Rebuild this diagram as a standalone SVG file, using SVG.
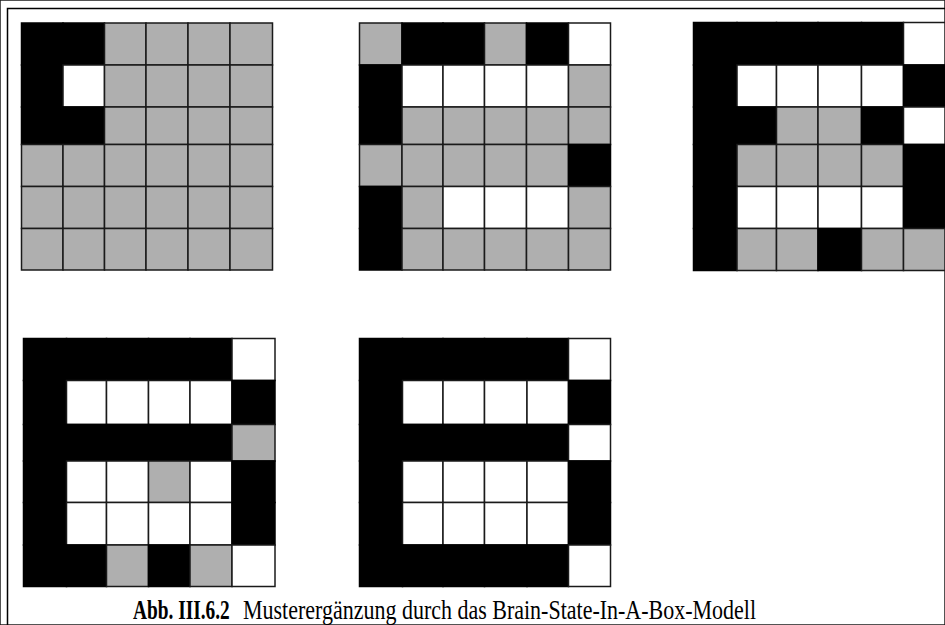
<svg xmlns="http://www.w3.org/2000/svg" width="945" height="625" viewBox="0 0 945 625">
<style>
rect{stroke:#1a1a1a;stroke-width:1.5}
.B{fill:#000;stroke:#000}.G{fill:#afafaf}.W{fill:#fff}
.frame{stroke:#000;stroke-width:1.5;fill:none}
.cap{font-family:"Liberation Serif","Times New Roman",serif;font-size:22px;fill:#000}
</style>
<rect width="945" height="625" fill="#fff" stroke="none"/>
<path class="frame" d="M7.5 625V8.5H945"/>
<g id="grid1">
<rect class="B" x="21.5" y="23" width="41.5" height="42"/><rect class="B" x="63" y="23" width="41.5" height="42"/><rect class="G" x="104.5" y="23" width="41.5" height="42"/><rect class="G" x="146" y="23" width="42" height="42"/><rect class="G" x="188" y="23" width="42" height="42"/><rect class="G" x="230" y="23" width="42.5" height="42"/>
<rect class="B" x="21.5" y="65" width="41.5" height="42"/><rect class="W" x="63" y="65" width="41.5" height="42"/><rect class="G" x="104.5" y="65" width="41.5" height="42"/><rect class="G" x="146" y="65" width="42" height="42"/><rect class="G" x="188" y="65" width="42" height="42"/><rect class="G" x="230" y="65" width="42.5" height="42"/>
<rect class="B" x="21.5" y="107" width="41.5" height="37.5"/><rect class="B" x="63" y="107" width="41.5" height="37.5"/><rect class="G" x="104.5" y="107" width="41.5" height="37.5"/><rect class="G" x="146" y="107" width="42" height="37.5"/><rect class="G" x="188" y="107" width="42" height="37.5"/><rect class="G" x="230" y="107" width="42.5" height="37.5"/>
<rect class="G" x="21.5" y="144.5" width="41.5" height="42"/><rect class="G" x="63" y="144.5" width="41.5" height="42"/><rect class="G" x="104.5" y="144.5" width="41.5" height="42"/><rect class="G" x="146" y="144.5" width="42" height="42"/><rect class="G" x="188" y="144.5" width="42" height="42"/><rect class="G" x="230" y="144.5" width="42.5" height="42"/>
<rect class="G" x="21.5" y="186.5" width="41.5" height="42"/><rect class="G" x="63" y="186.5" width="41.5" height="42"/><rect class="G" x="104.5" y="186.5" width="41.5" height="42"/><rect class="G" x="146" y="186.5" width="42" height="42"/><rect class="G" x="188" y="186.5" width="42" height="42"/><rect class="G" x="230" y="186.5" width="42.5" height="42"/>
<rect class="G" x="21.5" y="228.5" width="41.5" height="41.5"/><rect class="G" x="63" y="228.5" width="41.5" height="41.5"/><rect class="G" x="104.5" y="228.5" width="41.5" height="41.5"/><rect class="G" x="146" y="228.5" width="42" height="41.5"/><rect class="G" x="188" y="228.5" width="42" height="41.5"/><rect class="G" x="230" y="228.5" width="42.5" height="41.5"/>
</g>
<g id="grid2">
<rect class="G" x="359.5" y="23" width="42.5" height="42"/><rect class="B" x="402" y="23" width="41" height="42"/><rect class="B" x="443" y="23" width="41.5" height="42"/><rect class="G" x="484.5" y="23" width="42" height="42"/><rect class="B" x="526.5" y="23" width="42" height="42"/><rect class="W" x="568.5" y="23" width="42" height="42"/>
<rect class="B" x="359.5" y="65" width="42.5" height="42"/><rect class="W" x="402" y="65" width="41" height="42"/><rect class="W" x="443" y="65" width="41.5" height="42"/><rect class="W" x="484.5" y="65" width="42" height="42"/><rect class="W" x="526.5" y="65" width="42" height="42"/><rect class="G" x="568.5" y="65" width="42" height="42"/>
<rect class="B" x="359.5" y="107" width="42.5" height="37.5"/><rect class="G" x="402" y="107" width="41" height="37.5"/><rect class="G" x="443" y="107" width="41.5" height="37.5"/><rect class="G" x="484.5" y="107" width="42" height="37.5"/><rect class="G" x="526.5" y="107" width="42" height="37.5"/><rect class="G" x="568.5" y="107" width="42" height="37.5"/>
<rect class="G" x="359.5" y="144.5" width="42.5" height="42"/><rect class="G" x="402" y="144.5" width="41" height="42"/><rect class="G" x="443" y="144.5" width="41.5" height="42"/><rect class="G" x="484.5" y="144.5" width="42" height="42"/><rect class="G" x="526.5" y="144.5" width="42" height="42"/><rect class="B" x="568.5" y="144.5" width="42" height="42"/>
<rect class="B" x="359.5" y="186.5" width="42.5" height="42"/><rect class="G" x="402" y="186.5" width="41" height="42"/><rect class="W" x="443" y="186.5" width="41.5" height="42"/><rect class="W" x="484.5" y="186.5" width="42" height="42"/><rect class="W" x="526.5" y="186.5" width="42" height="42"/><rect class="G" x="568.5" y="186.5" width="42" height="42"/>
<rect class="B" x="359.5" y="228.5" width="42.5" height="41.5"/><rect class="G" x="402" y="228.5" width="41" height="41.5"/><rect class="G" x="443" y="228.5" width="41.5" height="41.5"/><rect class="G" x="484.5" y="228.5" width="42" height="41.5"/><rect class="G" x="526.5" y="228.5" width="42" height="41.5"/><rect class="G" x="568.5" y="228.5" width="42" height="41.5"/>
</g>
<g id="grid3">
<rect class="B" x="693.5" y="22.5" width="43.5" height="42.5"/><rect class="B" x="737" y="22.5" width="39.5" height="42.5"/><rect class="B" x="776.5" y="22.5" width="41.5" height="42.5"/><rect class="B" x="818" y="22.5" width="43.5" height="42.5"/><rect class="B" x="861.5" y="22.5" width="42" height="42.5"/><rect class="W" x="903.5" y="22.5" width="41.5" height="42.5"/>
<rect class="B" x="693.5" y="65" width="43.5" height="42"/><rect class="W" x="737" y="65" width="39.5" height="42"/><rect class="W" x="776.5" y="65" width="41.5" height="42"/><rect class="W" x="818" y="65" width="43.5" height="42"/><rect class="W" x="861.5" y="65" width="42" height="42"/><rect class="B" x="903.5" y="65" width="41.5" height="42"/>
<rect class="B" x="693.5" y="107" width="43.5" height="37.5"/><rect class="B" x="737" y="107" width="39.5" height="37.5"/><rect class="G" x="776.5" y="107" width="41.5" height="37.5"/><rect class="G" x="818" y="107" width="43.5" height="37.5"/><rect class="B" x="861.5" y="107" width="42" height="37.5"/><rect class="W" x="903.5" y="107" width="41.5" height="37.5"/>
<rect class="B" x="693.5" y="144.5" width="43.5" height="42"/><rect class="G" x="737" y="144.5" width="39.5" height="42"/><rect class="G" x="776.5" y="144.5" width="41.5" height="42"/><rect class="G" x="818" y="144.5" width="43.5" height="42"/><rect class="G" x="861.5" y="144.5" width="42" height="42"/><rect class="B" x="903.5" y="144.5" width="41.5" height="42"/>
<rect class="B" x="693.5" y="186.5" width="43.5" height="42"/><rect class="W" x="737" y="186.5" width="39.5" height="42"/><rect class="W" x="776.5" y="186.5" width="41.5" height="42"/><rect class="W" x="818" y="186.5" width="43.5" height="42"/><rect class="W" x="861.5" y="186.5" width="42" height="42"/><rect class="B" x="903.5" y="186.5" width="41.5" height="42"/>
<rect class="B" x="693.5" y="228.5" width="43.5" height="42"/><rect class="G" x="737" y="228.5" width="39.5" height="42"/><rect class="G" x="776.5" y="228.5" width="41.5" height="42"/><rect class="B" x="818" y="228.5" width="43.5" height="42"/><rect class="G" x="861.5" y="228.5" width="42" height="42"/><rect class="G" x="903.5" y="228.5" width="41.5" height="42"/>
</g>
<g id="grid4">
<rect class="B" x="23.5" y="338.5" width="43" height="42"/><rect class="B" x="66.5" y="338.5" width="40" height="42"/><rect class="B" x="106.5" y="338.5" width="42" height="42"/><rect class="B" x="148.5" y="338.5" width="41.5" height="42"/><rect class="B" x="190" y="338.5" width="42" height="42"/><rect class="W" x="232" y="338.5" width="43" height="42"/>
<rect class="B" x="23.5" y="380.5" width="43" height="44"/><rect class="W" x="66.5" y="380.5" width="40" height="44"/><rect class="W" x="106.5" y="380.5" width="42" height="44"/><rect class="W" x="148.5" y="380.5" width="41.5" height="44"/><rect class="W" x="190" y="380.5" width="42" height="44"/><rect class="B" x="232" y="380.5" width="43" height="44"/>
<rect class="B" x="23.5" y="424.5" width="43" height="36.5"/><rect class="B" x="66.5" y="424.5" width="40" height="36.5"/><rect class="B" x="106.5" y="424.5" width="42" height="36.5"/><rect class="B" x="148.5" y="424.5" width="41.5" height="36.5"/><rect class="B" x="190" y="424.5" width="42" height="36.5"/><rect class="G" x="232" y="424.5" width="43" height="36.5"/>
<rect class="B" x="23.5" y="461" width="43" height="41.5"/><rect class="W" x="66.5" y="461" width="40" height="41.5"/><rect class="W" x="106.5" y="461" width="42" height="41.5"/><rect class="G" x="148.5" y="461" width="41.5" height="41.5"/><rect class="W" x="190" y="461" width="42" height="41.5"/><rect class="B" x="232" y="461" width="43" height="41.5"/>
<rect class="B" x="23.5" y="502.5" width="43" height="42.5"/><rect class="W" x="66.5" y="502.5" width="40" height="42.5"/><rect class="W" x="106.5" y="502.5" width="42" height="42.5"/><rect class="W" x="148.5" y="502.5" width="41.5" height="42.5"/><rect class="W" x="190" y="502.5" width="42" height="42.5"/><rect class="B" x="232" y="502.5" width="43" height="42.5"/>
<rect class="B" x="23.5" y="545" width="43" height="41.5"/><rect class="B" x="66.5" y="545" width="40" height="41.5"/><rect class="G" x="106.5" y="545" width="42" height="41.5"/><rect class="B" x="148.5" y="545" width="41.5" height="41.5"/><rect class="G" x="190" y="545" width="42" height="41.5"/><rect class="W" x="232" y="545" width="43" height="41.5"/>
</g>
<g id="grid5">
<rect class="B" x="359.5" y="338.5" width="43" height="42"/><rect class="B" x="402.5" y="338.5" width="40.5" height="42"/><rect class="B" x="443" y="338.5" width="41.5" height="42"/><rect class="B" x="484.5" y="338.5" width="42.5" height="42"/><rect class="B" x="527" y="338.5" width="41.5" height="42"/><rect class="W" x="568.5" y="338.5" width="42" height="42"/>
<rect class="B" x="359.5" y="380.5" width="43" height="44"/><rect class="W" x="402.5" y="380.5" width="40.5" height="44"/><rect class="W" x="443" y="380.5" width="41.5" height="44"/><rect class="W" x="484.5" y="380.5" width="42.5" height="44"/><rect class="W" x="527" y="380.5" width="41.5" height="44"/><rect class="B" x="568.5" y="380.5" width="42" height="44"/>
<rect class="B" x="359.5" y="424.5" width="43" height="36.5"/><rect class="B" x="402.5" y="424.5" width="40.5" height="36.5"/><rect class="B" x="443" y="424.5" width="41.5" height="36.5"/><rect class="B" x="484.5" y="424.5" width="42.5" height="36.5"/><rect class="B" x="527" y="424.5" width="41.5" height="36.5"/><rect class="W" x="568.5" y="424.5" width="42" height="36.5"/>
<rect class="B" x="359.5" y="461" width="43" height="41.5"/><rect class="W" x="402.5" y="461" width="40.5" height="41.5"/><rect class="W" x="443" y="461" width="41.5" height="41.5"/><rect class="W" x="484.5" y="461" width="42.5" height="41.5"/><rect class="W" x="527" y="461" width="41.5" height="41.5"/><rect class="B" x="568.5" y="461" width="42" height="41.5"/>
<rect class="B" x="359.5" y="502.5" width="43" height="42.5"/><rect class="W" x="402.5" y="502.5" width="40.5" height="42.5"/><rect class="W" x="443" y="502.5" width="41.5" height="42.5"/><rect class="W" x="484.5" y="502.5" width="42.5" height="42.5"/><rect class="W" x="527" y="502.5" width="41.5" height="42.5"/><rect class="B" x="568.5" y="502.5" width="42" height="42.5"/>
<rect class="B" x="359.5" y="545" width="43" height="41.5"/><rect class="B" x="402.5" y="545" width="40.5" height="41.5"/><rect class="B" x="443" y="545" width="41.5" height="41.5"/><rect class="B" x="484.5" y="545" width="42.5" height="41.5"/><rect class="B" x="527" y="545" width="41.5" height="41.5"/><rect class="W" x="568.5" y="545" width="42" height="41.5"/>
</g>
<g id="caption">
<text class="cap" transform="translate(133,619) scale(0.88,1.2)" font-weight="bold">Abb. III.6.2</text>
<text class="cap" transform="translate(243,619) scale(1,1.2)">Mustererg&#228;nzung durch das Brain-State-In-A-Box-Modell</text>
</g>
</svg>
